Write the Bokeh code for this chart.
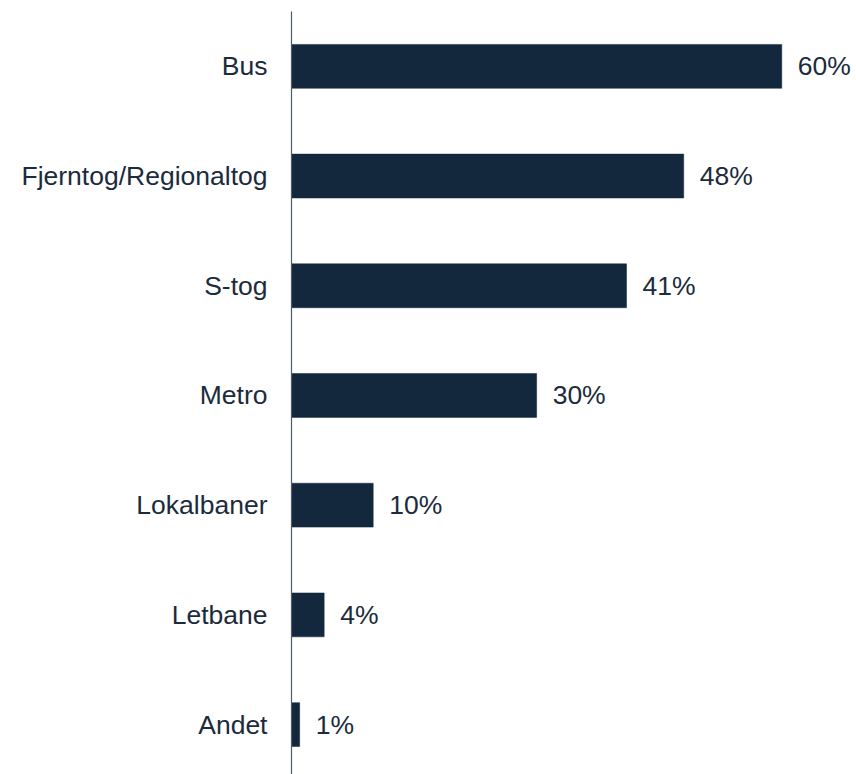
from bokeh.plotting import figure
from bokeh.models import Range1d, FixedTicker, ColumnDataSource
from bokeh.core.properties import value
from bokeh.embed import file_html
from bokeh.resources import INLINE

categories = ["Bus", "Fjerntog/Regionaltog", "S-tog", "Metro", "Lokalbaner", "Letbane", "Andet"]
values = [60, 48, 41, 30, 10, 4, 1]
labels = ["60%", "48%", "41%", "30%", "10%", "4%", "1%"]

BAR = "#13283d"
TEXT = "#1b2b3c"
AXIS = "#4f5b69"
FONT = "Liberation Sans"

n = len(categories)
ypos = [n - i - 0.5 for i in range(n)]

src = ColumnDataSource(dict(y=ypos, v=values, lab=labels))

p = figure(width=854, height=774, output_backend="svg", toolbar_location=None,
           x_range=Range1d(0, 68.9), y_range=Range1d(0.045, 7.0),
           min_border_left=291, min_border_right=0, min_border_top=11, min_border_bottom=0)

p.hbar(y="y", left=0, right="v", height=0.4, source=src, fill_color=BAR, line_color=BAR, line_width=0.5)
p.text(x="v", y="y", text="lab", source=src, x_offset=16, text_baseline="middle", text_align="left",
       text_font=value(FONT), text_font_size="26.5px", text_color=TEXT)

p.xaxis.visible = False
p.xgrid.visible = False
p.ygrid.visible = False
p.outline_line_color = None

ya = p.yaxis[0]
ya.ticker = FixedTicker(ticks=ypos)
ya.major_label_overrides = {y: c for y, c in zip(ypos, categories)}
ya.major_tick_line_color = None
ya.minor_tick_line_color = None
ya.major_tick_in = 0
ya.major_tick_out = 0
ya.major_label_standoff = 24
ya.major_label_text_font = FONT
ya.major_label_text_font_size = "26.5px"
ya.major_label_text_color = TEXT
ya.axis_line_color = AXIS
ya.axis_line_width = 1.2

p.background_fill_color = "white"
p.border_fill_color = "white"

open("out.html", "w").write(file_html(p, INLINE))
